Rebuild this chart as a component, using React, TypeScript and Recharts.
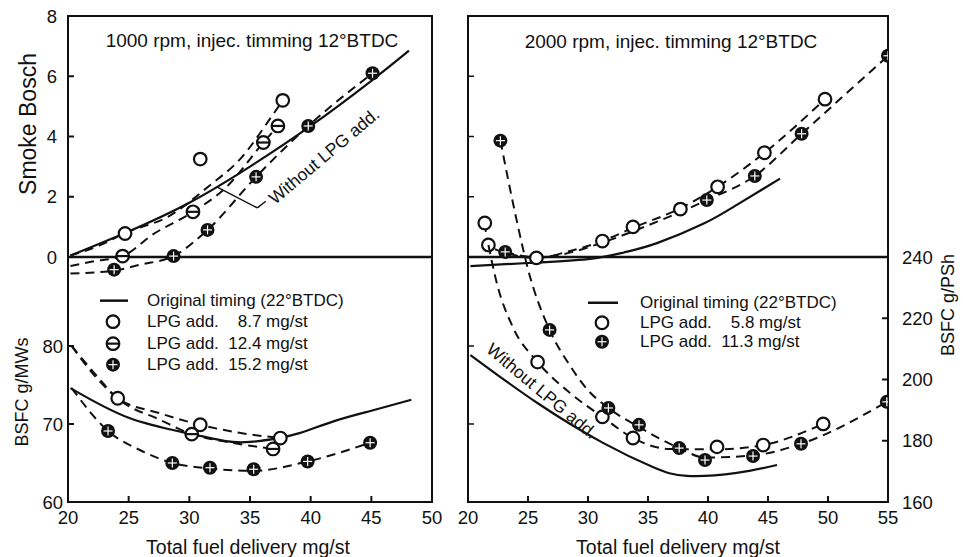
import React from "react"
import {
  ComposedChart,
  Line,
  Scatter,
  XAxis,
  YAxis,
  ReferenceLine,
  ReferenceArea,
  Legend,
} from "recharts"

type Pair = [number, number]

const FONT = '"Liberation Sans", Arial, Helvetica, sans-serif'
const INK = "#111"

// ---- 1000 rpm panel : smoke (Bosch) ----
const smoke1000Base: Pair[] = [[20.2, 0.05], [25, 0.85], [30, 1.8], [35, 3.0], [40, 4.35], [45, 5.85], [48.1, 6.85]]
const smoke1000OpenCurve: Pair[] = [[20.2, 0.05], [22.7, 0.4], [24.7, 0.8], [28.3, 1.35], [31.6, 2.35], [34.3, 3.3], [36.5, 4.5], [37.7, 5.2]]
const smoke1000Open: Pair[] = [[24.7, 0.78], [30.9, 3.25], [37.7, 5.2]]
const smoke1000HalfCurve: Pair[] = [[20.2, -0.3], [22, -0.15], [24.5, 0.03], [27, 0.75], [30.3, 1.5], [33, 2.3], [36.1, 3.8], [37.3, 4.35]]
const smoke1000Half: Pair[] = [[24.5, 0.03], [30.3, 1.5], [36.1, 3.8], [37.3, 4.35]]
const smoke1000CrossCurve: Pair[] = [[20.2, -0.55], [23.8, -0.45], [26, -0.25], [28.7, 0.03], [31.5, 0.9], [35.5, 2.66], [39.8, 4.35], [45.1, 6.1]]
const smoke1000Cross: Pair[] = [[23.8, -0.42], [28.7, 0.03], [31.5, 0.9], [35.5, 2.66], [39.8, 4.35], [45.1, 6.1]]

// ---- 1000 rpm panel : BSFC g/MWs ----
const bsfc1000Base: Pair[] = [[20.2, 74.6], [25, 70.8], [29.8, 68.85], [33, 67.8], [35, 67.7], [37, 68.1], [39, 68.8], [42, 70.4], [45, 71.7], [48.3, 73.1]]
const bsfc1000OpenCurve: Pair[] = [[20.3, 80], [22.3, 76.3], [24.1, 73.3], [27.5, 71.4], [30.9, 69.9], [34, 68.9], [37.5, 68.2]]
const bsfc1000Open: Pair[] = [[24.1, 73.3], [30.9, 69.9], [37.5, 68.2]]
const bsfc1000HalfCurve: Pair[] = [[20.3, 80], [22.3, 76], [24.4, 72.9], [27.5, 70.6], [30.2, 68.7], [33.5, 67.6], [36.9, 66.8]]
const bsfc1000Half: Pair[] = [[30.2, 68.7], [36.9, 66.8]]
const bsfc1000CrossCurve: Pair[] = [[20.3, 74.6], [23.3, 69.1], [26, 66.6], [28.6, 65.0], [31.7, 64.3], [35.3, 64.0], [39.75, 65.2], [44.9, 67.6]]
const bsfc1000Cross: Pair[] = [[23.3, 69.1], [28.6, 65.0], [31.7, 64.4], [35.3, 64.2], [39.75, 65.2], [44.9, 67.6]]

// ---- 2000 rpm panel : smoke (Bosch) ----
const smoke2000Base: Pair[] = [[20.2, -0.3], [25, -0.2], [30, -0.07], [33, 0.15], [35.75, 0.46], [39.6, 1.1], [42.4, 1.73], [46, 2.6]]
const smoke2000OpenCurve: Pair[] = [[21.4, 1.13], [21.7, 0.4], [23.5, 0.1], [25.7, -0.03], [28.5, 0.2], [31.2, 0.53], [33.75, 0.97], [37.7, 1.62], [40.8, 2.33], [44.7, 3.46], [49.75, 5.24]]
const smoke2000Open: Pair[] = [[21.4, 1.13], [21.7, 0.4], [25.7, -0.03], [31.2, 0.53], [33.75, 1.0], [37.7, 1.59], [40.8, 2.33], [44.7, 3.46], [49.75, 5.24]]
const smoke2000CrossCurve: Pair[] = [[23.1, 0.17], [25.5, 0.0], [28, 0.1], [31, 0.45], [35, 1.05], [39.9, 1.89], [43.9, 2.69], [47.8, 4.09], [55, 6.68]]
const smoke2000Cross: Pair[] = [[23.1, 0.17], [39.9, 1.89], [43.9, 2.69], [47.8, 4.09], [55, 6.68]]

// ---- 2000 rpm panel : BSFC g/PSh ----
const bsfc2000Base: Pair[] = [[20.2, 208], [25.75, 192.4], [31.25, 179.3], [35.4, 171.4], [38.25, 168.5], [42.4, 169.5], [45.75, 172.1]]
const bsfc2000OpenCurve: Pair[] = [[21.7, 243.9], [22.4, 231.5], [23.75, 217], [25.8, 205.7], [28.5, 195.6], [31.2, 187.8], [33.75, 180.9], [36.8, 177.3], [40.75, 177.2], [44.6, 178.6], [49.6, 185.5]]
const bsfc2000Open: Pair[] = [[25.8, 205.7], [31.2, 187.8], [33.75, 180.9], [40.75, 178.0], [44.6, 178.6], [49.6, 185.5]]
const bsfc2000CrossCurve: Pair[] = [[22.7, 278], [24, 253], [25, 236], [26.8, 216.2], [28.5, 204.5], [30, 196.5], [31.7, 190.7], [34.25, 184.5], [37.6, 177.6], [39.75, 174.5], [43.75, 175.2], [47.75, 179.0], [54.9, 192.7]]
const bsfc2000Cross: Pair[] = [[22.7, 278], [26.8, 216.2], [31.7, 190.7], [34.25, 185.2], [37.6, 177.6], [39.75, 173.7], [43.75, 175.0], [47.75, 179.0], [54.9, 192.7]]

// axes
const X_TICKS_1000 = [20, 25, 30, 35, 40, 45, 50]
const X_TICKS_2000 = [20, 25, 30, 35, 40, 45, 50, 55]
const SMOKE_TICKS = [0, 2, 4, 6, 8]
const MWS_TICKS = [60, 70, 80]
const PSH_TICKS = [160, 180, 200, 220, 240]

const SMOKE_DOMAIN: [number, number] = [-8.133, 8]
const MWS_DOMAIN: [number, number] = [60, 122.3]
const PSH_DOMAIN: [number, number] = [160, 318.7]

const LEGEND_1000 = [
  { kind: "line", label: "Original timing (22°BTDC)" },
  { kind: "open", label: "LPG add.  \u20078.7 mg/st" },
  { kind: "half", label: "LPG add.  12.4 mg/st" },
  { kind: "cross", label: "LPG add.  15.2 mg/st" },
]
const LEGEND_2000 = [
  { kind: "line", label: "Original timing (22°BTDC)" },
  { kind: "open", label: "LPG add.  \u20075.8 mg/st" },
  { kind: "cross", label: "LPG add.  11.3 mg/st" },
]

const pts = (a: Pair[]) => a.map(([x, y]) => ({ x, y }))

function OpenMark({ cx, cy }: any) {
  if (cx == null || cy == null) return null
  return <circle cx={cx} cy={cy} r={6.3} fill="#fff" stroke={INK} strokeWidth={2.2} />
}

function HalfMark({ cx, cy }: any) {
  if (cx == null || cy == null) return null
  return (
    <g>
      <circle cx={cx} cy={cy} r={6.3} fill="#fff" stroke={INK} strokeWidth={2.2} />
      <line x1={cx - 6} x2={cx + 6} y1={cy} y2={cy} stroke={INK} strokeWidth={2.2} />
    </g>
  )
}

function CrossMark({ cx, cy }: any) {
  if (cx == null || cy == null) return null
  return (
    <g>
      <circle cx={cx} cy={cy} r={7} fill={INK} />
      <line x1={cx - 4.5} x2={cx + 4.5} y1={cy} y2={cy} stroke="#fff" strokeWidth={1.2} />
      <line x1={cx} x2={cx} y1={cy - 4.5} y2={cy + 4.5} stroke="#fff" strokeWidth={1.2} />
    </g>
  )
}

const tickStyle = { fill: INK, fontSize: 18.5, fontFamily: FONT }

function LegendBox({ items, iconW, lineFrom, lineTo, markX, rowH }: any) {
  return (
    <div style={{ fontFamily: FONT, fontSize: 17, color: INK }}>
      {items.map((it: any) => (
        <div key={it.label} style={{ display: "flex", alignItems: "center", height: rowH }}>
          <svg width={iconW} height={rowH} style={{ flex: "none" }}>
            {it.kind === "line" && (
              <line x1={lineFrom} x2={lineTo} y1={rowH / 2} y2={rowH / 2} stroke={INK} strokeWidth={2.5} />
            )}
            {it.kind === "open" && <OpenMark cx={markX} cy={rowH / 2} />}
            {it.kind === "half" && <HalfMark cx={markX} cy={rowH / 2} />}
            {it.kind === "cross" && <CrossMark cx={markX} cy={rowH / 2} />}
          </svg>
          <span style={{ whiteSpace: "pre", lineHeight: `${rowH}px` }}>{it.label}</span>
        </div>
      ))}
    </div>
  )
}

// solid reference curves are smooth splines, dashed ones follow the points
const curve = (data: Pair[], yAxisId: string, dashed: boolean) => (
  <Line
    data={pts(data)}
    dataKey="y"
    yAxisId={yAxisId}
    type={dashed ? "monotone" : "natural"}
    stroke={INK}
    strokeWidth={dashed ? 2 : 2.2}
    strokeDasharray={dashed ? "9 6" : undefined}
    dot={false}
    activeDot={false}
    isAnimationActive={false}
  />
)

const marks = (data: Pair[], yAxisId: string, shape: any) => (
  <Scatter data={pts(data)} dataKey="y" yAxisId={yAxisId} shape={shape} isAnimationActive={false} />
)

const H = 557

export default function App() {
  return (
    <div style={{ position: "absolute", left: 0, top: 0, width: 963, height: H, background: "#fff" }}>
      {/* 1000 rpm – smoke layer with axes and frame */}
      <div style={{ position: "absolute", left: 0, top: 0 }}>
        <ComposedChart width={450} height={H} margin={{ top: 16, right: 18, bottom: 0, left: 0 }}>
          <XAxis
            dataKey="x"
            type="number"
            domain={[20, 50]}
            ticks={X_TICKS_1000}
            height={55}
            axisLine={false}
            tickSize={-6}
            tickMargin={15}
            tickLine={{ stroke: INK, strokeWidth: 2 }}
            tick={tickStyle}
            allowDataOverflow
          />
          <YAxis
            yAxisId="s"
            type="number"
            domain={SMOKE_DOMAIN}
            ticks={SMOKE_TICKS}
            width={68}
            axisLine={false}
            tickSize={-6}
            tickMargin={17}
            tickLine={{ stroke: INK, strokeWidth: 2 }}
            tick={tickStyle}
            allowDataOverflow
          />
          <ReferenceArea yAxisId="s" x1={20} x2={50} y1={SMOKE_DOMAIN[0]} y2={SMOKE_DOMAIN[1]} fill="none" stroke={INK} strokeWidth={2} ifOverflow="visible" />
          <ReferenceLine yAxisId="s" y={0} stroke={INK} strokeWidth={2.5} />
          <ReferenceLine yAxisId="s" segment={[{ x: 32.3, y: 2.32 }, { x: 35.6, y: 1.63 }]} stroke={INK} strokeWidth={1.5} />
          <ReferenceLine yAxisId="s" segment={[{ x: 35.6, y: 1.63 }, { x: 36.3, y: 1.85 }]} stroke={INK} strokeWidth={1.5} />
          {curve(smoke1000Base, "s", false)}
          {curve(smoke1000OpenCurve, "s", true)}
          {curve(smoke1000HalfCurve, "s", true)}
          {curve(smoke1000CrossCurve, "s", true)}
          {marks(smoke1000Open, "s", OpenMark)}
          {marks(smoke1000Half, "s", HalfMark)}
          {marks(smoke1000Cross, "s", CrossMark)}
          <Legend
            layout="vertical"
            align="center"
            verticalAlign="middle"
            wrapperStyle={{ position: "absolute", left: 95, top: 290, width: 300 }}
            content={() => (
              <LegendBox items={LEGEND_1000} iconW={52} lineFrom={5} lineTo={33} markX={18} rowH={21.3} />
            )}
          />
        </ComposedChart>
      </div>

      {/* 1000 rpm – BSFC layer */}
      <div style={{ position: "absolute", left: 0, top: 0 }}>
        <ComposedChart width={450} height={H} margin={{ top: 16, right: 18, bottom: 55, left: 0 }}>
          <XAxis dataKey="x" type="number" domain={[20, 50]} hide allowDataOverflow />
          <YAxis
            yAxisId="b"
            type="number"
            domain={MWS_DOMAIN}
            ticks={MWS_TICKS}
            width={68}
            axisLine={false}
            tickSize={-6}
            tickMargin={11}
            tickLine={{ stroke: INK, strokeWidth: 2 }}
            tick={tickStyle}
            allowDataOverflow
          />
          {curve(bsfc1000Base, "b", false)}
          {curve(bsfc1000OpenCurve, "b", true)}
          {curve(bsfc1000HalfCurve, "b", true)}
          {curve(bsfc1000CrossCurve, "b", true)}
          {marks(bsfc1000Open, "b", OpenMark)}
          {marks(bsfc1000Half, "b", HalfMark)}
          {marks(bsfc1000Cross, "b", CrossMark)}
        </ComposedChart>
      </div>

      {/* 2000 rpm – smoke layer with axes and frame */}
      <div style={{ position: "absolute", left: 440, top: 0 }}>
        <ComposedChart width={523} height={H} margin={{ top: 16, right: 75, bottom: 0, left: 0 }}>
          <XAxis
            dataKey="x"
            type="number"
            domain={[20, 55]}
            ticks={X_TICKS_2000}
            height={55}
            axisLine={false}
            tickSize={-6}
            tickMargin={15}
            tickLine={{ stroke: INK, strokeWidth: 2 }}
            tick={tickStyle}
            allowDataOverflow
          />
          <YAxis
            yAxisId="s"
            type="number"
            domain={SMOKE_DOMAIN}
            ticks={SMOKE_TICKS}
            width={28}
            axisLine={false}
            tickSize={-6}
            tickLine={{ stroke: INK, strokeWidth: 1.5 }}
            tickFormatter={() => ""}
            allowDataOverflow
          />
          <ReferenceArea yAxisId="s" x1={20} x2={55} y1={SMOKE_DOMAIN[0]} y2={SMOKE_DOMAIN[1]} fill="none" stroke={INK} strokeWidth={2} ifOverflow="visible" />
          <ReferenceLine yAxisId="s" y={0} stroke={INK} strokeWidth={2.5} />
          {curve(smoke2000Base, "s", false)}
          {curve(smoke2000OpenCurve, "s", true)}
          {curve(smoke2000CrossCurve, "s", true)}
          {marks(smoke2000Open, "s", OpenMark)}
          {marks(smoke2000Cross, "s", CrossMark)}
          <Legend
            layout="vertical"
            align="center"
            verticalAlign="middle"
            wrapperStyle={{ position: "absolute", left: 143, top: 293, width: 300 }}
            content={() => (
              <LegendBox items={LEGEND_2000} iconW={57} lineFrom={5} lineTo={35} markX={19} rowH={19.5} />
            )}
          />
        </ComposedChart>
      </div>

      {/* 2000 rpm – BSFC layer */}
      <div style={{ position: "absolute", left: 440, top: 0 }}>
        <ComposedChart width={523} height={H} margin={{ top: 16, right: 0, bottom: 55, left: 0 }}>
          <XAxis dataKey="x" type="number" domain={[20, 55]} hide allowDataOverflow />
          <YAxis
            yAxisId="m"
            type="number"
            domain={MWS_DOMAIN}
            ticks={[70, 80]}
            width={28}
            axisLine={false}
            tickSize={-6}
            tickLine={{ stroke: INK, strokeWidth: 1.5 }}
            tickFormatter={() => ""}
            allowDataOverflow
          />
          <YAxis
            yAxisId="p"
            orientation="right"
            type="number"
            domain={PSH_DOMAIN}
            ticks={PSH_TICKS}
            width={75}
            axisLine={false}
            tickSize={-6}
            tickMargin={20}
            tickLine={{ stroke: INK, strokeWidth: 2 }}
            tick={tickStyle}
            allowDataOverflow
          />
          {curve(bsfc2000Base, "p", false)}
          {curve(bsfc2000OpenCurve, "p", true)}
          {curve(bsfc2000CrossCurve, "p", true)}
          {marks(bsfc2000Open, "p", OpenMark)}
          {marks(bsfc2000Cross, "p", CrossMark)}
        </ComposedChart>
      </div>

      {/* titles and axis captions */}
      <svg
        width={963}
        height={H}
        style={{ position: "absolute", left: 0, top: 0, pointerEvents: "none" }}
        fontFamily={FONT}
        fill={INK}
      >
        <text x={252} y={47} fontSize={19} textAnchor="middle">1000 rpm, injec. timming 12°BTDC</text>
        <text x={671} y={48} fontSize={19} textAnchor="middle">2000 rpm, injec. timming 12°BTDC</text>
        <text x={28} y={124} fontSize={23} textAnchor="middle" dominantBaseline="central" transform="rotate(-90 28 124)">Smoke Bosch</text>
        <text x={22} y={392} fontSize={18} textAnchor="middle" dominantBaseline="central" transform="rotate(-90 22 392)">BSFC  g/MWs</text>
        <text x={948} y={305} fontSize={18} textAnchor="middle" dominantBaseline="central" transform="rotate(-90 948 305)">BSFC  g/PSh</text>
        <text x={324} y={156} fontSize={17.5} textAnchor="middle" dominantBaseline="central" transform="rotate(-40 324 156)">Without LPG add.</text>
        <text x={542} y={391} fontSize={17.5} textAnchor="middle" dominantBaseline="central" transform="rotate(40 542 391)">Without LPG add.</text>
        <text x={248} y={547} fontSize={19.5} textAnchor="middle" dominantBaseline="central">Total fuel delivery mg/st</text>
        <text x={678} y={547} fontSize={19.5} textAnchor="middle" dominantBaseline="central">Total fuel delivery mg/st</text>
      </svg>
    </div>
  )
}
